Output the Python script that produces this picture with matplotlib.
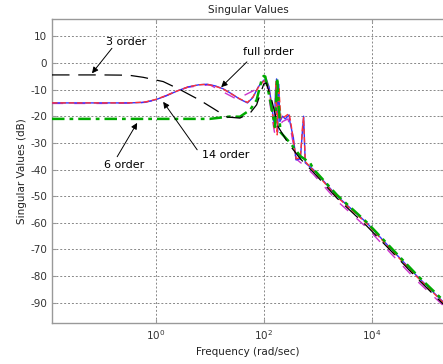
import numpy as np
import matplotlib
matplotlib.use('Agg')
import matplotlib.pyplot as plt

plt.rcParams['axes.unicode_minus'] = False
plt.rcParams['font.family'] = 'DejaVu Sans'

# frequency points are given as log10(rad/sec)
full_lw = [-1.92, -1.0, -0.5, -0.2, 0.0, 0.2, 0.4, 0.6, 0.8, 0.95, 1.1, 1.25, 1.4, 1.55, 1.7,
           1.8, 1.9, 2.0, 2.05, 2.1, 2.15, 2.2, 2.22, 2.24, 2.26, 2.28, 2.3, 2.35, 2.4, 2.47,
           2.49, 2.55, 2.6, 2.68, 2.72, 2.74, 2.77, 2.92, 3.36, 3.91, 4.37, 4.84, 5.34]
full_db = [-15, -15, -15, -14.8, -13.8, -12.3, -10.5, -9.0, -8.2, -8.0, -8.6, -9.7, -11.5, -13.5, -15,
           -13, -9, -6.5, -6.2, -9, -16, -24, -10, -6, -26, -8, -22, -20, -21, -19.5,
           -22.5, -28, -36.4, -36, -25, -20, -37.5, -40, -50, -60, -70, -80, -90]

# 14 order follows the full model closely
o14_lw = [-1.92, -1.0, -0.5, -0.2, 0.0, 0.2, 0.4, 0.6, 0.8, 0.95, 1.1, 1.25, 1.4, 1.55, 1.7,
          1.8, 1.9, 2.0, 2.05, 2.1, 2.15, 2.2, 2.23, 2.25, 2.28, 2.32, 2.4, 2.47,
          2.5, 2.55, 2.6, 2.68, 2.72, 2.74, 2.77, 2.92, 3.36, 3.91, 4.37, 4.84, 5.34]
o14_db = [-15, -15, -15, -14.7, -13.7, -12.2, -10.5, -9.0, -8.2, -8.0, -8.7, -9.8, -11.6, -13.4, -14.8,
          -12.8, -9.2, -6.8, -6.5, -10, -17, -25, -7, -27, -9, -21, -20, -19,
          -22, -29, -36, -35.5, -24, -20.5, -37, -40.3, -50.3, -60.3, -70.3, -80.3, -90.2]

# second (lower) singular value visible at high frequency
o14b_lw = [-1.92, -1.0, -0.3, 0.0, 0.3, 0.6, 1.0, 1.5, 1.9, 2.05, 2.2, 2.35, 2.45, 2.5, 2.6,
           2.75, 2.92, 3.36, 3.91, 4.37, 4.84, 5.34]
o14b_db = [-15.2, -15.2, -15, -14, -11.3, -9.1, -8.2, -13.6, -9.5, -7, -26, -22, -21, -25, -36,
           -38.5, -41.8, -51.8, -61.8, -71.8, -81.8, -91.3]

o3_lw = [-1.92, -1.0, -0.5, -0.23, 0.14, 0.45, 0.82, 1.06, 1.32, 1.56, 1.75, 1.87, 2.0, 2.05,
         2.15, 2.27, 2.45, 2.68, 2.92, 3.36, 3.91, 4.37, 4.84, 5.34]
o3_db = [-4.5, -4.5, -4.6, -5.4, -7.0, -10.0, -14.0, -17.0, -20.3, -20.7, -18.8, -15.7, -8.0, -7.5,
         -14, -24, -30, -36, -41, -50.8, -61.2, -70.8, -80.8, -90.8]

o6_lw = [-1.92, -1.0, 0.0, 1.0, 1.38, 1.56, 1.75, 1.87, 1.97, 2.0, 2.03, 2.12, 2.21, 2.25,
         2.31, 2.49, 2.68, 2.86, 2.92, 3.36, 3.91, 4.37, 4.84, 5.34]
o6_db = [-21, -21, -21, -21, -20.1, -20.2, -17.6, -13.9, -5.7, -4.9, -5.1, -14, -24, -5.6,
         -26, -30, -35, -37.5, -39.8, -49.6, -59.8, -69.6, -79.6, -89.4]

fig = plt.figure(figsize=(4.43, 3.64), dpi=100)
ax = fig.add_axes([52 / 443, 1 - 323 / 364, (444 - 52) / 443, (323 - 19.5) / 364])

ax.semilogx(10 ** np.array(full_lw), full_db, color='#3333ff', lw=1.0, zorder=4)
ax.semilogx(10 ** np.array(o14_lw), o14_db, color='#ff3333', lw=1.0, ls=(0, (4, 2)), zorder=5)
ax.semilogx(10 ** np.array(o14b_lw), o14b_db, color='#cc33cc', lw=1.0, ls=(0, (8, 8)), zorder=3)
ax.semilogx(10 ** np.array(o3_lw), o3_db, color='black', lw=0.9, ls=(0, (14, 7)), zorder=6)
ax.semilogx(10 ** np.array(o6_lw), o6_db, color='#00aa00', lw=1.8, ls=(0, (5, 2, 1.5, 2)), zorder=5)

ax.set_xlim(10 ** -1.92, 10 ** 5.34)
ax.set_ylim(-97.6, 16.3)
ax.set_xticks([1, 100, 10000])
ax.set_xticklabels([r'$10^{0}$', r'$10^{2}$', r'$10^{4}$'])
ax.xaxis.set_minor_locator(matplotlib.ticker.NullLocator())
ax.set_yticks(np.arange(-90, 11, 10))

ax.grid(True, color='#888888', ls=(0, (2, 2)), lw=0.7)
for s in ax.spines.values():
    s.set_color('#999999')
    s.set_linewidth(1.0)
ax.tick_params(direction='in', length=3, color='#999999', labelcolor='#333333',
               labelsize=7.5, top=True, right=True)

ax.set_title('Singular Values', fontsize=7.5, color='#222222', pad=5)
ax.set_xlabel('Frequency (rad/sec)', fontsize=7.5, color='#222222', labelpad=4)
ax.set_ylabel('Singular Values (dB)', fontsize=7.5, color='#222222', labelpad=2)

arrow = dict(arrowstyle='-|>', color='black', lw=0.7, mutation_scale=9, shrinkA=0, shrinkB=0)

def label(txt, tpos, tail, head):
    ax.text(10 ** tpos[0], tpos[1], txt, ha='center', va='center', fontsize=8, zorder=7)
    ax.annotate('', xy=(10 ** head[0], head[1]), xytext=(10 ** tail[0], tail[1]),
                arrowprops=arrow, zorder=7)

label('3 order', (-0.546, 7.9), (-0.81, 5.5), (-1.18, -3.9))
label('full order', (2.08, 4.1), (1.69, 0.4), (1.213, -9.1))
label('14 order', (1.306, -34.5), (0.769, -32.6), (0.139, -14.6))
label('6 order', (-0.583, -38.2), (-0.713, -35.2), (-0.343, -22.5))

fig.savefig('out.png', dpi=100)
